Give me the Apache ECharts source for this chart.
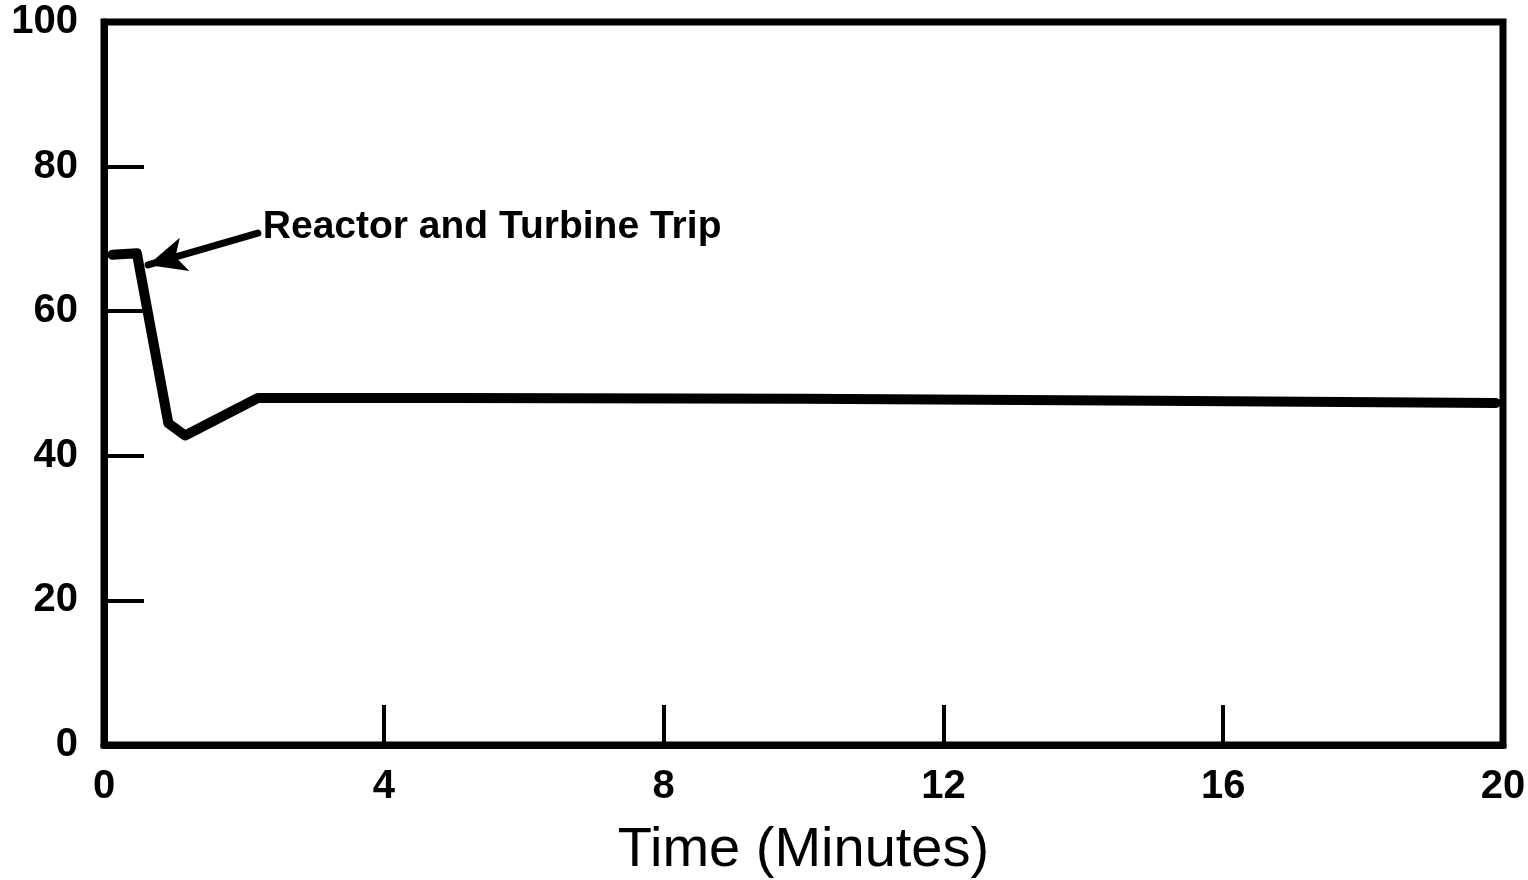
<!DOCTYPE html>
<html>
<head>
<meta charset="utf-8">
<script src="https://cdn.jsdelivr.net/npm/echarts@6/dist/echarts.min.js"></script>
<style>
    html, body { margin: 0; padding: 0; background: #fff; }
    #chart { width: 1528px; height: 880px; }
</style>
</head>
<body>
<div id="chart"></div>
<script>
    // curve
    const timeMin = [0.12, 0.47, 0.92, 1.16, 2.2, 5, 10, 15, 19.9];
    const level = [67.8, 68.0, 44.5, 42.8, 48.0, 48.0, 47.9, 47.6, 47.3];

    // annotation: text anchor and arrow from text to curve
    const noteText = 'Reactor and Turbine Trip';
    const notePos = [2.27, 71.6];
    const arrowFrom = [2.2, 70.8];
    const arrowTo = [0.63, 66.4];

    const xTicks = [0, 4, 8, 12, 16, 20];
    const yTicks = [0, 20, 40, 60, 80, 100];

    const font = 'Liberation Sans, Arial, sans-serif';

    const chart = echarts.init(document.getElementById('chart'));

    const option = {
        animation: false,
        backgroundColor: '#fff',
        grid: {
            left: 104,
            right: 25,
            top: 22,
            bottom: 135,
            outerBoundsMode: 'none',
            show: true,
            borderColor: '#000',
            borderWidth: 7
        },
        xAxis: {
            type: 'value',
            min: xTicks[0],
            max: xTicks[xTicks.length - 1],
            interval: 4,
            name: 'Time (Minutes)',
            nameLocation: 'middle',
            nameGap: 78,
            nameTextStyle: { fontFamily: font, fontSize: 56, color: '#000' },
            axisLine: { lineStyle: { color: '#000', width: 7 } },
            axisTick: { inside: true, length: 40, lineStyle: { color: '#000', width: 4 } },
            axisLabel: {
                fontFamily: font, fontSize: 40, fontWeight: 'bold', color: '#000', margin: 22
            },
            splitLine: { show: false }
        },
        yAxis: {
            type: 'value',
            min: yTicks[0],
            max: yTicks[yTicks.length - 1],
            interval: 20,
            axisLine: { show: true, lineStyle: { color: '#000', width: 7 } },
            axisTick: { show: true, inside: true, length: 40, lineStyle: { color: '#000', width: 4 } },
            axisLabel: {
                fontFamily: font, fontSize: 40, fontWeight: 'bold', color: '#000', margin: 26
            },
            splitLine: { show: false }
        },
        series: [
            {
                type: 'line',
                data: timeMin.map((t, i) => [t, level[i]]),
                symbol: 'none',
                lineStyle: { color: '#000', width: 10, join: 'round', cap: 'round' },
                markLine: {
                    silent: true,
                    symbol: ['none', 'arrow'],
                    symbolSize: [26, 38],
                    label: { show: false },
                    lineStyle: { color: '#000', width: 7, type: 'solid', cap: 'round' },
                    data: [[{ coord: arrowFrom }, { coord: arrowTo }]]
                }
            },
            {
                type: 'scatter',
                data: [notePos],
                symbolSize: 0,
                silent: true,
                itemStyle: { opacity: 1 },
                label: {
                    show: true,
                    position: 'right',
                    distance: 0,
                    formatter: noteText,
                    fontFamily: font,
                    fontSize: 39,
                    fontWeight: 'bold',
                    color: '#000'
                }
            }
        ]
    };

    chart.setOption(option);
</script>
</body>
</html>
